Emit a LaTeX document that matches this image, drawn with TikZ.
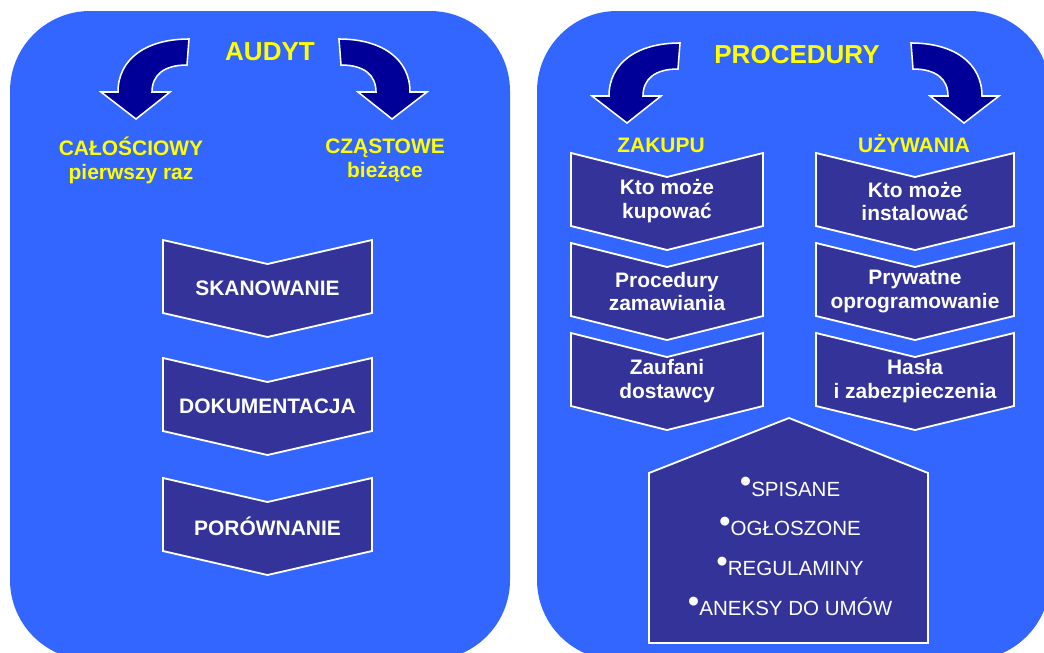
\documentclass[tikz,border=0pt]{standalone}
\usepackage{fontspec}
\setmainfont{Liberation Sans}

\definecolor{panelblue}{HTML}{3366FF}
\definecolor{chevblue}{HTML}{333399}
\definecolor{arrowblue}{HTML}{000099}
\definecolor{headyellow}{HTML}{FFFF00}

\tikzset{
  panel/.style={fill=panelblue,rounded corners=57pt},
  chevron/.style={fill=chevblue,draw=white,line width=1.3pt},
  bendarrow/.style={fill=arrowblue,draw=white,line width=1.1pt},
  headtext/.style={text=headyellow,font=\bfseries\fontsize{18.5}{20}\selectfont,anchor=base},
  subtext/.style={text=headyellow,font=\bfseries\fontsize{14.9}{17}\selectfont,align=center},
  chevtext/.style={text=white,font=\bfseries\fontsize{14.9}{17}\selectfont,align=center},
  listtext/.style={text=white,font=\fontsize{14.6}{17}\selectfont,anchor=base},
}

% chevron with its label: name, centre x, top y, half width, label
\newcommand{\chevbox}[5]{%
  \filldraw[chevron] (#2-#4,#3) -- (#2,#3+\notch) -- (#2+#4,#3) -- (#2+#4,#3+\side)
    -- (#2,#3+\side+\notch) -- (#2-#4,#3+\side) -- cycle;
  \node[chevtext] (#1) at (#2,#3+48.5) {#5};}

% bent arrow: tip x, tip y, 1 = turning left, -1 = turning right
\newcommand{\bendarrow}[3]{%
  \begin{scope}[shift={(#1,#2)},xscale=#3]
    \filldraw[bendarrow] (0,0) -- (-35,-27) -- (-18,-27)
      .. controls (-18,-60) and (10,-80) .. (53,-80) -- (51,-54)
      .. controls (28,-54) and (16,-44) .. (16,-27) -- (34,-27) -- cycle;
  \end{scope}}

\newcommand{\blt}{\raisebox{.15em}{\scalebox{1.6}{\textbullet}}}

\begin{document}
\begin{tikzpicture}[x=0.025cm,y=-0.025cm]
\def\notch{24}% depth of notch and tip
\def\side{73}% height of the straight sides
\clip (0,0) rectangle (1044,652);
%the two rounded panels
\fill[panel] (10,11) rectangle (510,660);
\fill[panel] (537,11) rectangle (1050,660);

%left panel: audit
\node[headtext] (audit) at (270,60) {AUDYT};
\bendarrow{136}{119}{1}
\bendarrow{392}{119}{-1}
\node[subtext] (full) at (131,160) {CAŁOŚCIOWY\\pierwszy raz};
\node[subtext] (partial) at (385,160) {CZĄSTOWE\\bieżące};
\chevbox{scan}{267.5}{240}{104.5}{SKANOWANIE}
\chevbox{docs}{267.5}{358}{104.5}{DOKUMENTACJA}
\chevbox{compare}{267.5}{478}{104.5}{PORÓWNANIE}

%right panel: procedures
\node[headtext] (proc) at (797,63) {PROCEDURY};
\bendarrow{627}{123}{1}
\bendarrow{964}{123}{-1}
\node[headtext,font=\bfseries\fontsize{14.9}{17}\selectfont] (buy) at (661,152) {ZAKUPU};
\node[headtext,font=\bfseries\fontsize{14.9}{17}\selectfont] (use) at (914,152) {UŻYWANIA};
\chevbox{buywho}{667}{153}{96}{Kto może\\kupować}
\chevbox{buyorder}{667}{243}{96}{Procedury\\zamawiania}
\chevbox{buyseller}{667}{333}{96}{Zaufani\\dostawcy}
\chevbox{usewho}{915}{153}{99}{Kto może\\instalować}
\chevbox{useown}{915}{243}{99}{Prywatne\\oprogramowanie}
\chevbox{usepass}{915}{333}{99}{Hasła\\i zabezpieczenia}

%house shape with the rules
\filldraw[chevron] (649,473) -- (789,418) -- (928,473) -- (928,643) -- (649,643) -- cycle;
\foreach \t [count=\i] in {SPISANE,OGŁOSZONE,REGULAMINY,ANEKSY DO UMÓW}
  \node[listtext] (rule\i) at (790,496+39.7*\i-39.7) {\blt\t};
\end{tikzpicture}
\end{document}
